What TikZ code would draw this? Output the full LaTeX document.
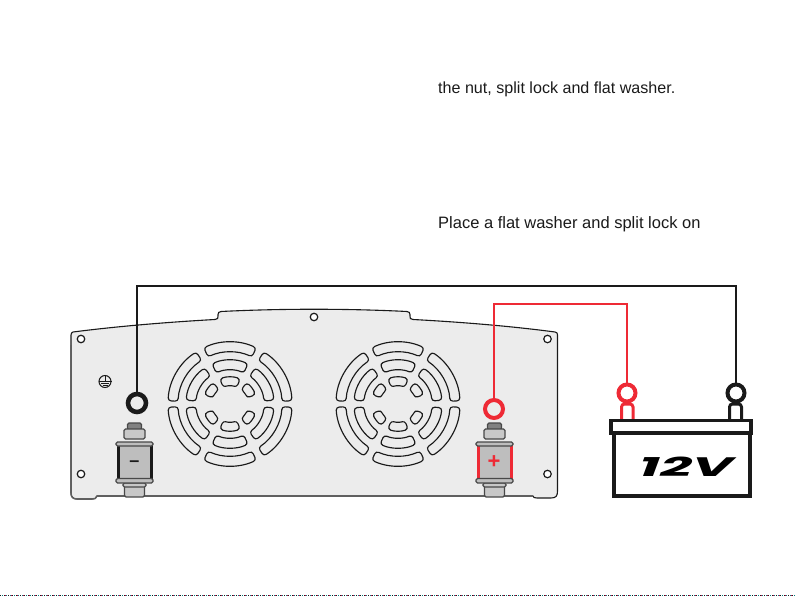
\documentclass[tikz,border=0pt]{standalone}
\usepackage{fontspec}
\usepackage{graphicx}
\setmainfont{Liberation Sans}
\newfontfamily\voltfont{Poppins}
\definecolor{panelgray}{HTML}{ECECEC}
\definecolor{postgray}{HTML}{BEBEBE}
\definecolor{nutgray}{HTML}{C8C8C8}
\definecolor{wirered}{HTML}{EE2A35}
\definecolor{ink}{HTML}{1A1A1A}
\tikzset{
  outline/.style={draw=ink,line width=1.1pt},
  slot/.style={draw=ink,line width=1.15pt,rounded corners=3pt},
  hole/.style={circle,draw=ink,line width=1.2pt,fill=white,minimum size=7.5pt,inner sep=0pt},
  ring/.style={circle,line width=4pt,minimum size=18pt,inner sep=0pt,fill=none},
  wire/.style={line width=2pt,line join=miter},
  hw/.style={draw=ink!80,line width=1.1pt,fill=nutgray,rounded corners=1.5pt},
  capt/.style={anchor=base west,inner sep=0pt,text=ink},
  batbox/.style={draw=ink,line width=3.8pt,fill=white},
}
\newcommand{\fanslot}[4]{% a1 a2 r1 r2
  \draw[slot] (#1:#4) arc[start angle=#1,end angle=#2,radius=#4] -- (#2:#3) arc[start angle=#2,end angle=#1,radius=#3] -- cycle;}
\newcommand{\fangrille}{%
  \foreach \s in {1,-1}{
    \begin{scope}[yscale=\s]
      \fanslot{65}{115}{52}{62}
      \fanslot{3}{57}{52}{62}
      \fanslot{123}{177}{52}{62}
      \fanslot{66}{114}{34}{44}
      \fanslot{5}{55}{34}{44}
      \fanslot{125}{175}{34}{44}
      \fanslot{68}{112}{18}{27}
      \fanslot{20}{52}{18}{27}
      \fanslot{128}{160}{18}{27}
    \end{scope}}}
\newcommand{\terminal}[2]{% x, side colour
  \begin{scope}[shift={(#1,0)}]
    \draw[hw,fill=ink!55] (-7,423) rectangle (7,430);
    \draw[hw] (-10.5,429) rectangle (10.5,439);
    \draw[hw] (-10,483) rectangle (10,497);
    \draw[hw] (-11.5,483) rectangle (11.5,487);
    \fill[postgray] (-17,445) rectangle (17,479);
    \fill[#2] (-18,445) rectangle (-15,479);
    \fill[#2] (15,445) rectangle (18,479);
    \draw[#2,line width=1pt] (-17,445.5) -- (17,445.5) (-17,478.5) -- (17,478.5);
    \draw[hw,fill=postgray] (-18.5,442) rectangle (18.5,446);
    \draw[hw,fill=postgray] (-18.5,478.5) rectangle (18.5,483);
  \end{scope}}
\begin{document}
\begin{tikzpicture}[x=1pt,y=-1pt]
\useasboundingbox (0,0) rectangle (795,596);
% captions
\node[capt,font=\fontsize{16.1}{18}\selectfont] (capa) at (438,94) {the nut, split lock and flat washer.};
\node[capt,font=\fontsize{16.5}{18}\selectfont] (capb) at (438,228.7) {Place a flat washer and split lock on};
% inverter panel
\draw[outline,fill=panelgray,line join=round]
  (71,335) .. controls (71,333) and (72,332.5) .. (73,332)
  .. controls (120,326) and (170,322) .. (215,319.5)
  .. controls (218,319.5) and (218,318) .. (218,316)
  -- (218,314.5) .. controls (218,312.5) and (219,312) .. (221,311.5)
  .. controls (280,308.5) and (348,308.5) .. (407,311.5)
  .. controls (409,312) and (410,312.5) .. (410,314.5)
  -- (410,316) .. controls (410,318) and (410,319.5) .. (413,319.5)
  .. controls (460,322) and (510,326) .. (555,332)
  .. controls (557,332.5) and (557.5,333) .. (557.5,335)
  -- (557.5,491) .. controls (557.5,496) and (556,498) .. (551,498)
  -- (537,498) .. controls (534,498) and (533.5,497.5) .. (533,496)
  -- (97,496) .. controls (96,498.5) and (95,499) .. (92,499)
  -- (77,499) .. controls (73,499) and (71,497) .. (71,493) -- cycle;
\draw[draw=ink!70,line width=1.5pt] (71,345) -- (71,493) .. controls (71,497) and (73,499) .. (77,499) -- (92,499) .. controls (95,499) and (96,498.5) .. (97,496) -- (533,496);
\node[hole] (h1) at (81,339) {};
\node[hole] (h2) at (81,474) {};
\node[hole] (h3) at (314,317) {};
\node[hole] (h4) at (547.5,339) {};
\node[hole] (h5) at (547.5,474) {};
% ground symbol
\node[circle,draw=ink,line width=1pt,minimum size=12pt,inner sep=0pt] (gnd) at (105,381.5) {};
\draw[ink,line width=1pt] (gnd.north) -- (gnd.center) (gnd.west) -- (gnd.east)
  (101,383.6) -- (109,383.6) (102.5,385.4) -- (107.5,385.4);
% fans
\begin{scope}[shift={(230,404)}]\fangrille\end{scope}
\begin{scope}[shift={(398,404)}]\fangrille\end{scope}
% terminals
\terminal{134.5}{ink}
\terminal{494.5}{wirered}
\node[inner sep=0pt,text=ink,font=\fontsize{18}{18}\bfseries\selectfont] (minus) at (134.5,463.5) {–};
\node[inner sep=0pt,text=wirered,font=\fontsize{22}{22}\bfseries\selectfont] (plus) at (494,462.5) {+};
% battery
\draw[batbox] (614,433) rectangle (750,496);
\draw[wirered,line width=3pt,rounded corners=3pt] (621.5,421) -- (621.5,404) -- (633,404) -- (633,421);
\draw[ink,line width=3pt,rounded corners=3pt] (729.5,421) -- (729.5,404) -- (741.5,404) -- (741.5,421);
\draw[batbox] (611,420.5) rectangle (751,433);
\node[inner sep=0pt] (volt) at (686,467) {\resizebox{94pt}{19.5pt}{\voltfont\bfseries\itshape 12V}};
% rings
\node[ring,draw=ink,line width=4.6pt] (invneg) at (137,403) {};
\node[ring,draw=wirered] (invpos) at (494,409) {};
\node[ring,draw=wirered,minimum size=17pt] (batpos) at (627,393) {};
\node[ring,draw=ink,minimum size=17pt] (batneg) at (736,393) {};
% wires
\coordinate (blacktop) at (430,286);
\coordinate (redtop) at (560,304);
\draw[wire,draw=ink] (invneg.north) |- (blacktop) -| (batneg.north);
\draw[wire,draw=wirered] (invpos.north) |- (redtop) -| (batpos.north);
% scan noise along the bottom edge
\coordinate (noisea) at (0,595.5);
\coordinate (noiseb) at (795,595.5);
\draw[line width=1pt,draw=ink,dash pattern=on 1pt off 3pt] (noisea) -- (noiseb);
\draw[line width=1pt,draw=teal,dash pattern=on 1pt off 3pt,dash phase=2pt] (noisea) -- (noiseb);
\draw[line width=1pt,draw=purple,dash pattern=on 1pt off 5pt,dash phase=1pt] (noisea) -- (noiseb);
\end{tikzpicture}
\end{document}
